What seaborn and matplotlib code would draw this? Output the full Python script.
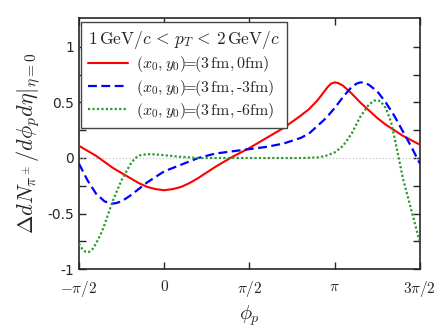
import numpy as np
import pandas as pd
import matplotlib
matplotlib.use("Agg")
import matplotlib.pyplot as plt
import seaborn as sns

# phi_p in units of pi
t_red = [-0.5, -0.4, -0.3, -0.2, -0.15, -0.1, -0.05, 0.0, 0.05, 0.1, 0.15, 0.2, 0.3, 0.4, 0.5, 0.6, 0.7, 0.8, 0.85, 0.9, 0.93, 0.96, 0.98, 1.0, 1.02, 1.05, 1.1, 1.15, 1.2, 1.25, 1.3, 1.35, 1.4, 1.45, 1.5]
v_red = [0.11, 0.02, -0.09, -0.18, -0.225, -0.26, -0.28, -0.29, -0.28, -0.26, -0.225, -0.18, -0.08, 0.01, 0.09, 0.18, 0.27, 0.38, 0.44, 0.52, 0.58, 0.64, 0.67, 0.68, 0.675, 0.65, 0.58, 0.5, 0.43, 0.36, 0.30, 0.25, 0.20, 0.16, 0.12]

t_blue = [-0.5, -0.45, -0.4, -0.35, -0.32, -0.3, -0.28, -0.25, -0.2, -0.1, 0.0, 0.1, 0.2, 0.3, 0.4, 0.5, 0.6, 0.7, 0.8, 0.85, 0.9, 0.95, 1.0, 1.05, 1.1, 1.13, 1.15, 1.17, 1.2, 1.25, 1.3, 1.35, 1.4, 1.45, 1.5]
v_blue = [-0.05, -0.2, -0.32, -0.39, -0.405, -0.41, -0.405, -0.39, -0.34, -0.22, -0.12, -0.06, 0.0, 0.04, 0.06, 0.08, 0.1, 0.13, 0.18, 0.22, 0.29, 0.36, 0.45, 0.55, 0.64, 0.67, 0.68, 0.68, 0.66, 0.6, 0.5, 0.38, 0.24, 0.1, -0.05]

t_green = [-0.5, -0.48, -0.46, -0.44, -0.42, -0.4, -0.37, -0.35, -0.3, -0.25, -0.2, -0.17, -0.14, -0.1, -0.05, 0.0, 0.1, 0.2, 0.4, 0.6, 0.8, 0.9, 0.95, 1.0, 1.05, 1.1, 1.15, 1.2, 1.23, 1.25, 1.27, 1.3, 1.33, 1.36, 1.4, 1.45, 1.5]
v_green = [-0.77, -0.82, -0.845, -0.845, -0.82, -0.77, -0.68, -0.6, -0.38, -0.2, -0.06, 0.0, 0.025, 0.035, 0.032, 0.025, 0.01, 0.0, 0.0, 0.0, 0.0, 0.005, 0.02, 0.05, 0.11, 0.22, 0.37, 0.48, 0.515, 0.52, 0.51, 0.45, 0.33, 0.12, -0.18, -0.47, -0.76]

labels = [r"$(x_0,y_0)\!\!=\!\!(3\,\mathrm{fm},0\mathrm{fm})$",
          r"$(x_0,y_0)\!\!=\!\!(3\,\mathrm{fm},\text{-3fm})$",
          r"$(x_0,y_0)\!\!=\!\!(3\,\mathrm{fm},\text{-6fm})$"]
header = r"$1\,\mathrm{GeV}/c\, < \,p_T\, < \,2\,\mathrm{GeV}/c$"
xtick_vals = [-0.5, 0.0, 0.5, 1.0, 1.5]
xtick_labels = [r"$-\pi/2$", r"$0$", r"$\pi/2$", r"$\pi$", r"$3\pi/2$"]
ytick_vals = [-1, -0.5, 0, 0.5, 1]
ytick_labels = ["-1", "-0.5", "0", "0.5", "1"]

sns.set_style("ticks")
plt.rcParams["font.family"] = ["DejaVu Sans"]
plt.rcParams["mathtext.fontset"] = "cm"
plt.rcParams["axes.unicode_minus"] = False

df = pd.concat([
    pd.DataFrame({"phi": np.array(t_red) * np.pi, "val": v_red, "case": labels[0]}),
    pd.DataFrame({"phi": np.array(t_blue) * np.pi, "val": v_blue, "case": labels[1]}),
    pd.DataFrame({"phi": np.array(t_green) * np.pi, "val": v_green, "case": labels[2]}),
])

fig = plt.figure(figsize=(4.36, 3.27), dpi=100)
ax = fig.add_axes([0.181, 0.177, 0.782, 0.768])

ax.axhline(0, color="#bbbbbb", lw=0.8, ls=(0, (1, 2)), zorder=1)

palette = {labels[0]: "#ff0000", labels[1]: "#0000ff", labels[2]: "#2e9a2e"}
styles = [("-", 1.5), ((0, (4, 2)), 1.6), ((0, (1, 1)), 1.6)]
for lab, (ls, lw) in zip(labels, styles):
    sub = df[df["case"] == lab]
    sns.lineplot(data=sub, x="phi", y="val", ax=ax, color=palette[lab],
                 linestyle=ls, lw=lw, label=lab, sort=False, zorder=3)

ax.set_xlim(-0.5 * np.pi, 1.5 * np.pi)
ax.set_ylim(-1, 1.26)
ax.set_xticks(np.array(xtick_vals) * np.pi)
ax.set_xticklabels(xtick_labels, fontsize=11)
ax.set_yticks(ytick_vals)
ax.set_yticklabels(ytick_labels, fontsize=10)
ax.set_yticks([-0.75, -0.25, 0.25, 0.75], minor=True)
ax.tick_params(which="both", direction="in", top=True, right=True, length=5, width=1)
ax.tick_params(axis="x", pad=7)
for s in ax.spines.values():
    s.set_linewidth(1.2)

ax.set_xlabel(r"$\phi_p$", fontsize=14.5, labelpad=3)
ax.set_ylabel(r"$\Delta dN_{\pi^\pm}/d\phi_p d\eta|_{\eta=0}$", fontsize=16, labelpad=4)

leg = ax.legend(loc="upper left", title=header, title_fontsize=12.5, fontsize=11.5,
                frameon=True, fancybox=False, handlelength=2.5, handletextpad=0.5,
                borderpad=0.45, labelspacing=0.2,
                bbox_to_anchor=(0.006, 0.984), borderaxespad=0.0)
leg.get_frame().set_edgecolor("#444444")
leg.get_frame().set_linewidth(1.0)
leg.get_frame().set_alpha(1)
leg._legend_box.align = "left"

fig.savefig("out.png", dpi=100)
